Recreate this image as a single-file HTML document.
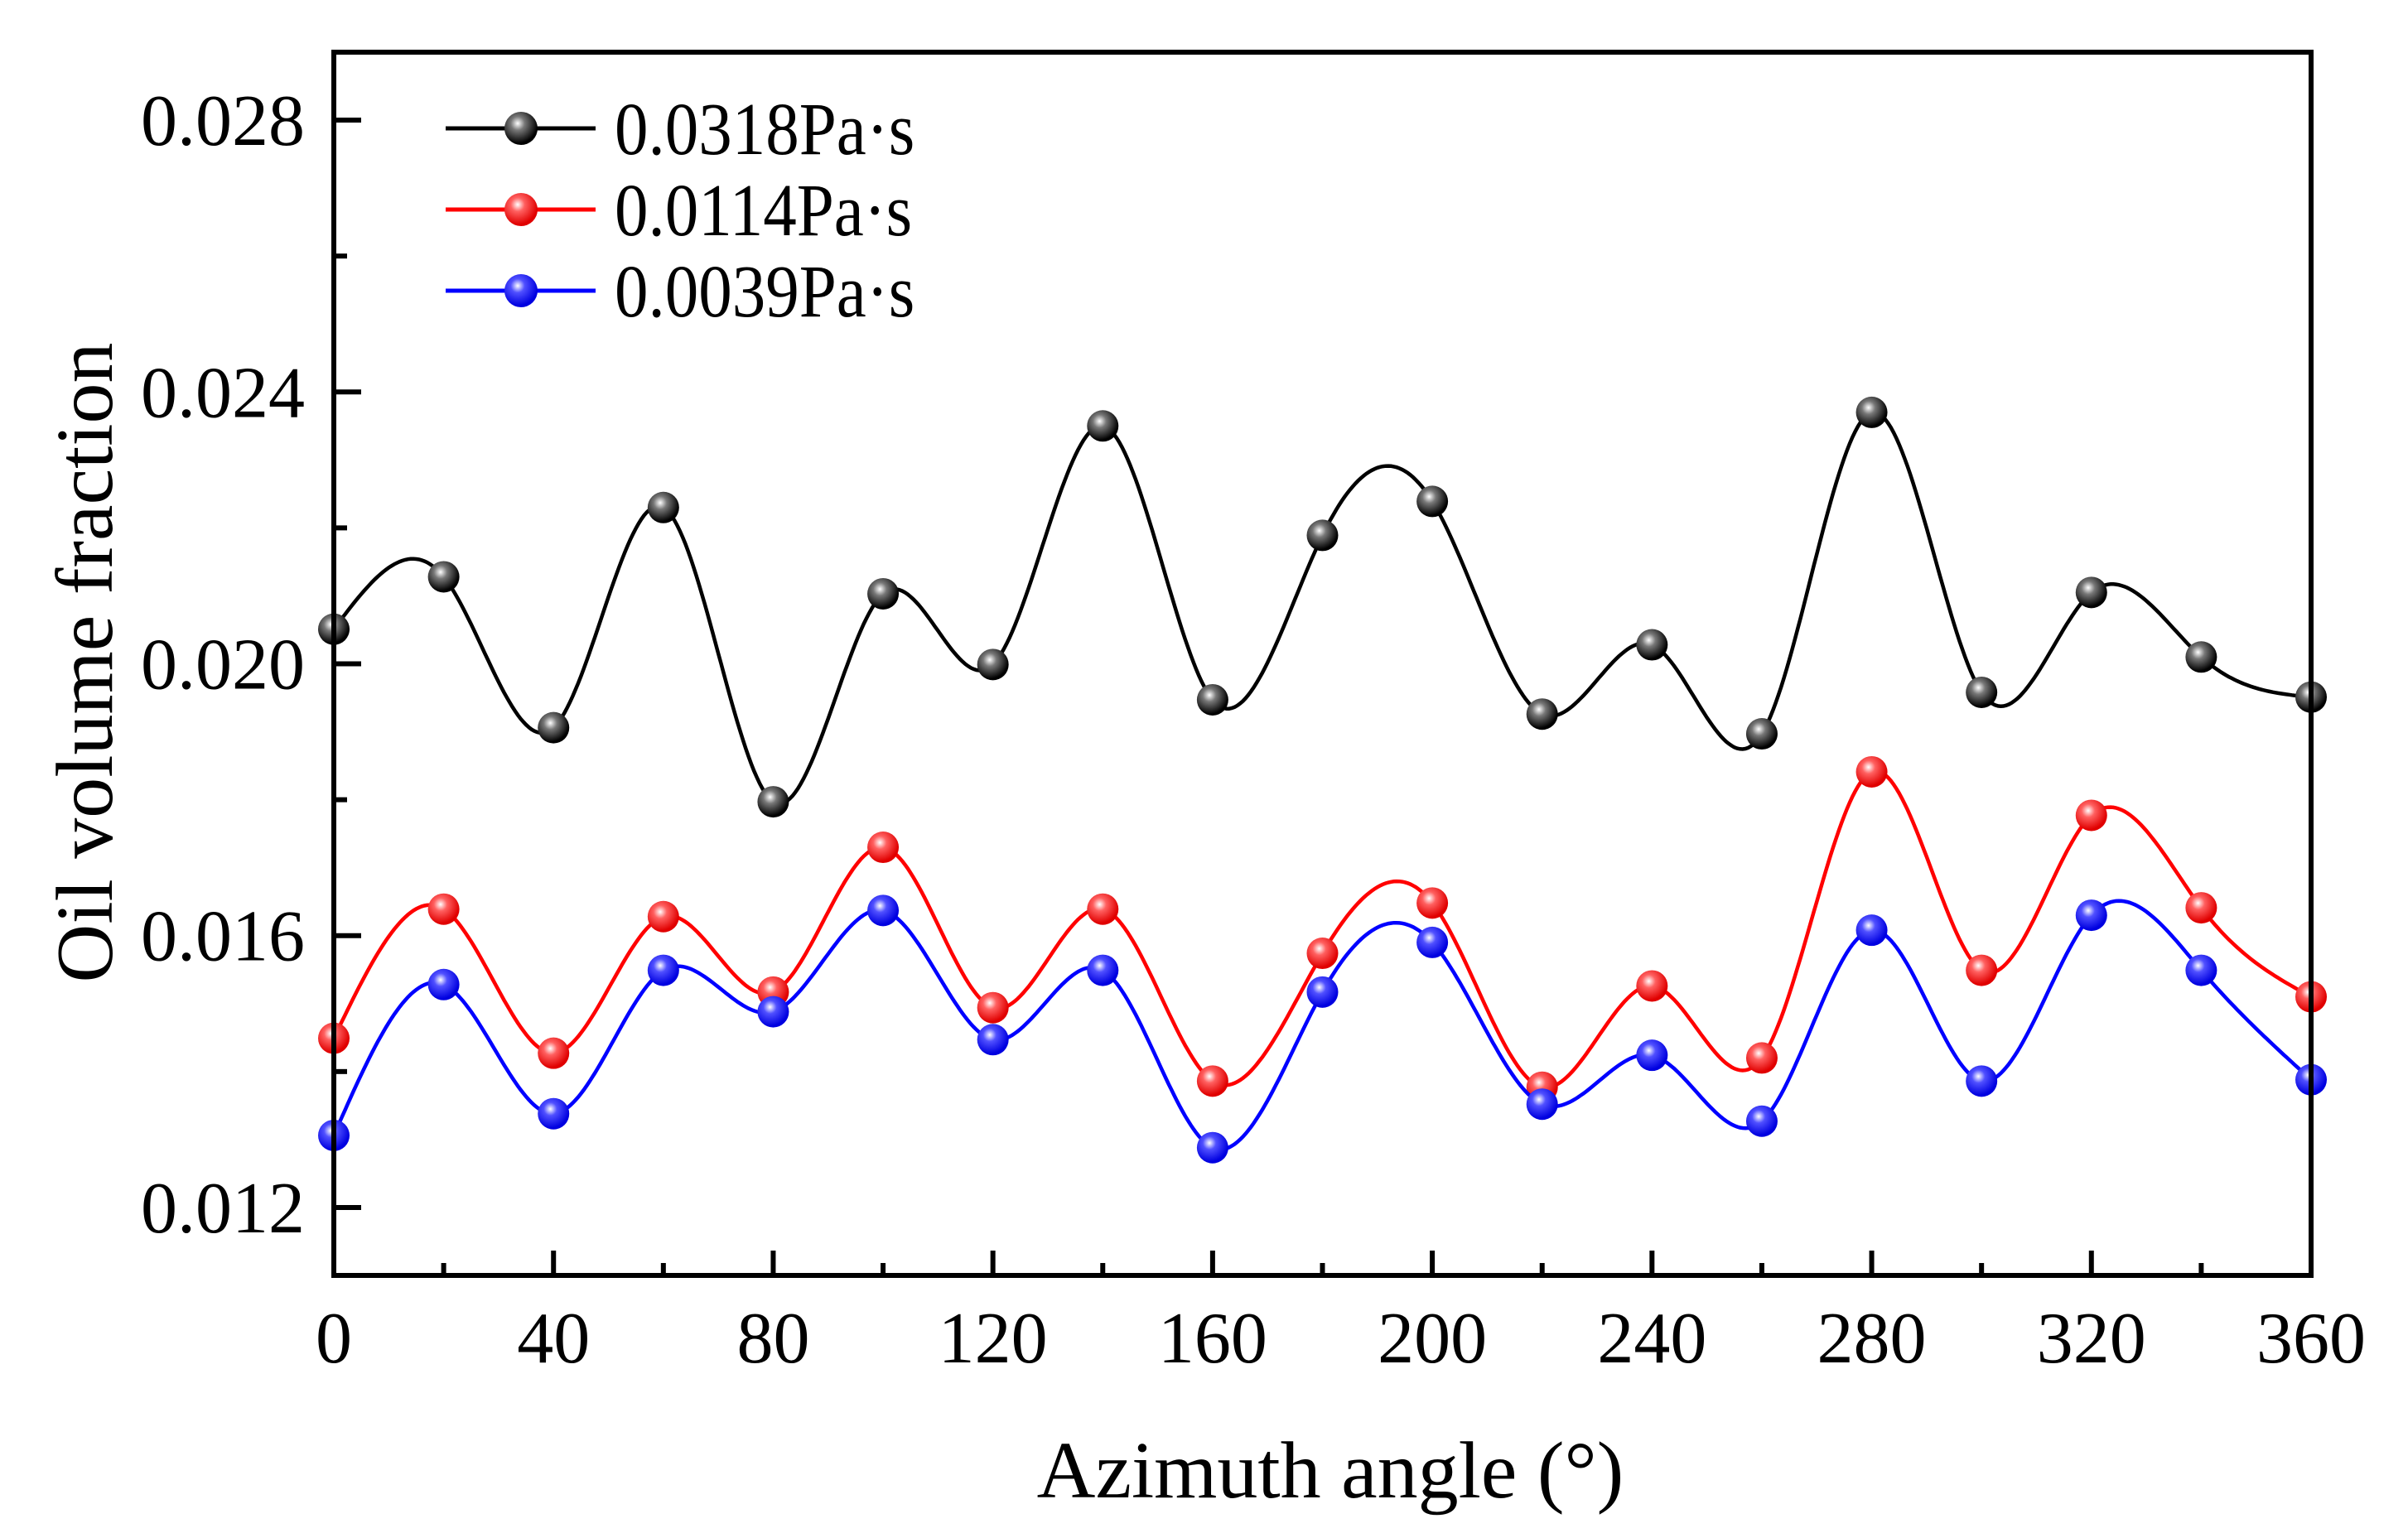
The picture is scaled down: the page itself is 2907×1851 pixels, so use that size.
<!DOCTYPE html>
<html><head><meta charset="utf-8"><style>
html,body{margin:0;padding:0;background:#fff;}
svg{display:block;font-family:"Liberation Serif",serif;}
</style></head><body>
<svg id="chart" width="2907" height="1851" viewBox="0 0 2907 1851" xmlns="http://www.w3.org/2000/svg">
<defs>
<radialGradient id="gk" cx="0.4" cy="0.35" r="0.6"><stop offset="0" stop-color="#fff"/><stop offset="0.35" stop-color="#777"/><stop offset="1" stop-color="#000"/></radialGradient>
<radialGradient id="gr" cx="0.4" cy="0.35" r="0.6"><stop offset="0" stop-color="#fff"/><stop offset="0.35" stop-color="#ff6060"/><stop offset="1" stop-color="#e00000"/></radialGradient>
<radialGradient id="gb" cx="0.4" cy="0.35" r="0.6"><stop offset="0" stop-color="#fff"/><stop offset="0.35" stop-color="#5050ff"/><stop offset="1" stop-color="#0000e0"/></radialGradient>
</defs>
<g id="plot"></g>
<g id="axes"></g>
<g id="legend"></g>
<text transform="translate(135,800) rotate(-90)" text-anchor="middle" font-size="98">Oil volume fraction</text>
<text x="1606" y="1808" text-anchor="middle" font-size="98">Azimuth angle (°)</text>
</svg>
<script>
const angles=[0,20,40,60,80,100,120,140,160,180,200,220,240,260,280,300,320,340,360];
const black0318=[0.02051,0.02128,0.01906,0.0223,0.01797,0.02103,0.01999,0.0235,0.01947,0.02189,0.02239,0.01926,0.02028,0.01897,0.0237,0.01958,0.02105,0.0201,0.01951];
const red0114=[0.01449,0.01639,0.01427,0.01628,0.01517,0.0173,0.01494,0.01639,0.01386,0.01574,0.01648,0.01377,0.01526,0.0142,0.01841,0.01549,0.01777,0.01641,0.0151];
const blue0039=[0.01306,0.01528,0.01338,0.01549,0.01488,0.01637,0.01447,0.01549,0.01288,0.01517,0.0159,0.01352,0.01424,0.01327,0.01608,0.01386,0.0163,0.01549,0.01388];
const xTicks=[0,40,80,120,160,200,240,280,320,360];
const yTicks=[0.012,0.016,0.020,0.024,0.028];
const yTickLabels=["0.012","0.016","0.020","0.024","0.028"];
const seriesNames=["0.0318Pa·s","0.0114Pa·s","0.0039Pa·s"];

const NS="http://www.w3.org/2000/svg";
const L=403,R=2790,T=63,B=1540;
const xMin=0,xMax=360,yMin=0.011,yMax=0.029;
function sx(v){return L+(v-xMin)/(xMax-xMin)*(R-L);}
function sy(v){return B-(v-yMin)/(yMax-yMin)*(B-T);}
function mk(tag,attrs,parent){const e=document.createElementNS(NS,tag);for(const k in attrs)e.setAttribute(k,attrs[k]);parent.appendChild(e);return e;}
const plot=document.getElementById('plot'),axes=document.getElementById('axes'),legend=document.getElementById('legend');

function spline(xs,ys){
  const n=xs.length,h=[],a=[],l=[1],mu=[0],z=[0],c=new Array(n).fill(0),b=[],d=[];
  for(let i=0;i<n-1;i++)h.push(xs[i+1]-xs[i]);
  for(let i=1;i<n-1;i++)a[i]=3/h[i]*(ys[i+1]-ys[i])-3/h[i-1]*(ys[i]-ys[i-1]);
  for(let i=1;i<n-1;i++){l[i]=2*(xs[i+1]-xs[i-1])-h[i-1]*mu[i-1];mu[i]=h[i]/l[i];z[i]=(a[i]-h[i-1]*z[i-1])/l[i];}
  l[n-1]=1;z[n-1]=0;
  for(let j=n-2;j>=0;j--){c[j]=z[j]-mu[j]*c[j+1];b[j]=(ys[j+1]-ys[j])/h[j]-h[j]*(c[j+1]+2*c[j])/3;d[j]=(c[j+1]-c[j])/(3*h[j]);}
  let p="";
  for(let j=0;j<n-1;j++){for(let k=0;k<=40;k++){const t=h[j]*k/40;const y=ys[j]+b[j]*t+c[j]*t*t+d[j]*t*t*t;p+=(p?"L":"M")+sx(xs[j]+t).toFixed(1)+","+sy(y).toFixed(1);}}
  return p;
}
const series=[[black0318,"#000","gk","black"],[red0114,"#ff0000","gr","red"],[blue0039,"#0000ff","gb","blue"]];
series.forEach((s,si)=>{
  const path=mk('path',{d:spline(angles,s[0]),fill:'none',stroke:s[1],'stroke-width':4.5},plot);
  
  
  s[0].forEach((v,i)=>{
    const c=mk('circle',{cx:sx(angles[i]),cy:sy(v),r:19,fill:'url(#'+s[2]+')'},plot);
    
    
  });
  const ly=155+si*98;
  const ll=mk('line',{x1:538,x2:719,y1:ly,y2:ly,stroke:s[1],'stroke-width':5},legend);
  
  
  const lc=mk('circle',{cx:629,cy:ly,r:20,fill:'url(#'+s[2]+')'},legend);
  
  
  const lt=mk('text',{x:0,y:0,'font-size':90,transform:'translate(742,'+(ly+31)+') scale(0.9,1)'},legend);
  lt.textContent=seriesNames[si];
  
  
});
const fr=mk('rect',{x:L,y:T,width:R-L,height:B-T,fill:'none',stroke:'#000','stroke-width':6},axes);


for(let v=0;v<=360;v+=20){
  const major=v%40===0;
  const t=mk('line',{x1:sx(v),x2:sx(v),y1:B,y2:B-(major?30:15),stroke:'#000','stroke-width':6},axes);
  
  
}
xTicks.forEach(v=>{
  const t=mk('text',{x:sx(v),y:1645,'text-anchor':'middle','font-size':88},axes);
  t.textContent=String(v);
  
  
});
for(let k=0;k<=8;k++){
  const v=0.012+k*0.002,major=k%2===0;
  const t=mk('line',{x1:L,x2:L+(major?33:16),y1:sy(v),y2:sy(v),stroke:'#000','stroke-width':6},axes);
  
  
}
yTicks.forEach((v,i)=>{
  const t=mk('text',{x:368,y:sy(v)+30,'text-anchor':'end','font-size':88},axes);
  t.textContent=yTickLabels[i];
  
  
});
</script>
</body></html>
